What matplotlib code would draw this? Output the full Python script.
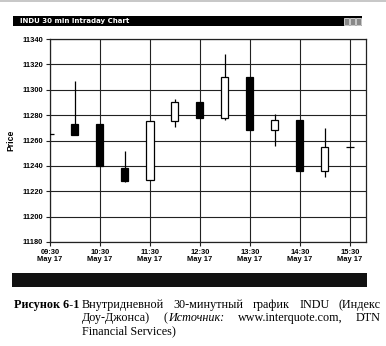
import matplotlib
matplotlib.use("Agg")
import matplotlib.pyplot as plt
from matplotlib.patches import Rectangle

# half-hour bars, INDU, May 17
slots = list(range(13))
opens = [11265, 11273, 11273, 11238, 11229, 11275, 11290, 11278, 11310, 11268, 11276, 11236, 11255]
closes = [11265, 11264, 11240, 11228, 11275, 11290, 11278, 11310, 11268, 11276, 11236, 11255, 11255]
highs = [11265, 11307, 11273, 11252, 11275, 11293, 11290, 11328, 11310, 11281, 11276, 11270, 11255]
lows = [11265, 11264, 11240, 11227, 11229, 11271, 11278, 11276, 11268, 11256, 11236, 11231, 11255]
tick_labels = ['09:30\nMay 17', '10:30\nMay 17', '11:30\nMay 17', '12:30\nMay 17',
               '13:30\nMay 17', '14:30\nMay 17', '15:30\nMay 17']
yticks = list(range(11180, 11341, 20))

W, H = 386, 346
fig = plt.figure(figsize=(W / 100, H / 100), dpi=100)
fig.patch.set_facecolor('white')

# scanned-window decorations
fig.patches.append(Rectangle((0, 1 - 2 / H), 1, 2 / H, transform=fig.transFigure,
                             color='#c8c8c8', lw=0))
fig.patches.append(Rectangle((13 / W, 1 - 26 / H), 349 / W, 10 / H,
                             transform=fig.transFigure, color='black', lw=0))
fig.text(20 / W, 1 - 21 / H, 'INDU 30 min Intraday Chart', color='white',
         fontsize=5, fontweight='bold', va='center', family='DejaVu Sans')
for bx in [344, 350, 356]:
    fig.patches.append(Rectangle((bx / W, 1 - 24.5 / H), 5 / W, 7 / H,
                                 transform=fig.transFigure, facecolor='#888888',
                                 edgecolor='white', lw=0.5))
fig.patches.append(Rectangle((12 / W, 1 - 287 / H), 355 / W, 14 / H,
                             transform=fig.transFigure, color='#111111', lw=0))

ax = fig.add_axes([50 / W, 1 - 242 / H, 316 / W, 203 / H])
ax.set_xlim(0, 12.64)
ax.set_ylim(11180, 11340)
ax.set_yticks(yticks)
ax.set_xticks([0, 2, 4, 6, 8, 10, 12])
ax.set_xticklabels(tick_labels)
ax.grid(True, color='#222222', lw=0.8)
ax.set_axisbelow(True)
for s in ax.spines.values():
    s.set_color('#222222')
    s.set_linewidth(0.9)
ax.tick_params(length=3, width=0.8, color='#222222', pad=2)
for lab in ax.get_yticklabels() + ax.get_xticklabels():
    lab.set_fontsize(5.4)
    lab.set_fontweight('bold')
    lab.set_family('Liberation Sans')
for lab in ax.get_xticklabels():
    lab.set_linespacing(0.95)
ax.set_ylabel('Price', fontsize=6.2, fontweight='bold', family='Liberation Sans', labelpad=5)

bw = 0.28
for x, o, c, h, l in zip(slots, opens, closes, highs, lows):
    ax.vlines(x, l, h, color='black', lw=0.9, zorder=3)
    if o == c:
        ax.hlines(c, x - bw / 2 - 0.02, x + bw / 2 + 0.02, color='black', lw=0.9, zorder=4)
        continue
    fc = 'black' if c < o else 'white'
    ax.bar(x, abs(c - o), bottom=min(o, c), width=bw, facecolor=fc,
           edgecolor='black', lw=0.9, zorder=4)

# caption, justified between x=82 and x=381 px
cap = dict(family='Liberation Serif', fontsize=8.7, va='center')
fig.text(14 / W, 1 - 305 / H, 'Рисунок 6-1', fontweight='bold', **cap)
renderer = fig.canvas.get_renderer()


def justify(words, ypx, x0=82, x1=381):
    # words: list of lists of (text, style) pieces
    arts = []
    total = 0
    for word in words:
        pieces = []
        for txt, st in word:
            t = fig.text(0, 1 - ypx / H, txt, style=st, **cap)
            w = t.get_window_extent(renderer).width
            pieces.append((t, w))
            total += w
        arts.append(pieces)
    gap = (x1 - x0 - total) / (len(words) - 1)
    x = x0
    for pieces in arts:
        for t, w in pieces:
            t.set_x(x / W)
            x += w
        x += gap


justify([[('Внутридневной', 'normal')], [('30-минутный', 'normal')],
         [('график', 'normal')], [('INDU', 'normal')], [('(Индекс', 'normal')]], 305)
justify([[('Доу-Джонса)', 'normal')], [('(', 'normal'), ('Источник:', 'italic')],
         [('www.interquote.com,', 'normal')], [('DTN', 'normal')]], 318)
fig.text(82 / W, 1 - 331 / H, 'Financial Services)', **cap)

fig.savefig('out.png', dpi=100)
